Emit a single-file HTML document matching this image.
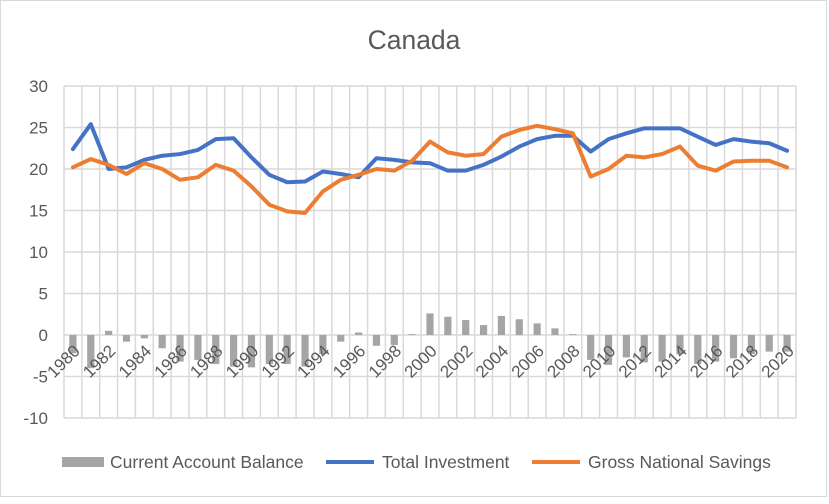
<!DOCTYPE html>
<html><head><meta charset="utf-8"><style>
body{margin:0;background:#fff;}
svg text{font-family:"Liberation Sans",sans-serif;fill:#595959;}
</style></head><body>
<svg id="chart" width="829" height="499" xmlns="http://www.w3.org/2000/svg">
<rect x="0.5" y="0.5" width="826" height="496" fill="#fff" stroke="#d9d9d9"/>
<text x="414" y="49" text-anchor="middle" font-size="26.5">Canada</text>
<g id="grid"></g><g id="bars"></g><g id="lines"></g><g id="axes"></g>
<g>
<rect x="62" y="457" width="42" height="10" fill="#a5a5a5"/>
<text x="110" y="468" font-size="17.5">Current Account Balance</text>
<line x1="326" y1="462" x2="374" y2="462" stroke="#4472c4" stroke-width="4"/>
<text x="382" y="468" font-size="17.5">Total Investment</text>
<line x1="532" y1="462" x2="580" y2="462" stroke="#ed7d31" stroke-width="4"/>
<text x="588" y="468" font-size="17.5">Gross National Savings</text>
</g>
</svg>
<script>
const years=[];for(let y=1980;y<=2020;y++)years.push(y);
const cab=[-2.2,-4.0,0.5,-0.8,-0.4,-1.6,-3.2,-3.0,-3.5,-3.8,-3.9,-3.5,-3.5,-3.8,-2.3,-0.8,0.3,-1.3,-1.2,0.1,2.6,2.2,1.8,1.2,2.3,1.9,1.4,0.8,0.1,-3.0,-3.6,-2.7,-3.3,-3.2,-2.3,-3.5,-3.2,-2.8,-2.3,-2.0,-2.0];
const investment=[22.4,25.4,20.0,20.2,21.1,21.6,21.8,22.3,23.6,23.7,21.4,19.3,18.4,18.5,19.7,19.4,19.0,21.3,21.1,20.8,20.7,19.8,19.8,20.5,21.5,22.7,23.6,24.0,24.0,22.1,23.6,24.3,24.9,24.9,24.9,23.9,22.9,23.6,23.3,23.1,22.2];
const savings=[20.2,21.2,20.5,19.4,20.7,20.0,18.7,19.0,20.5,19.8,17.9,15.7,14.9,14.7,17.3,18.7,19.3,20.0,19.8,21.0,23.3,22.0,21.6,21.8,23.9,24.7,25.2,24.8,24.3,19.1,20.0,21.6,21.4,21.8,22.7,20.4,19.8,20.9,21.0,21.0,20.2];
const yTicks=[-10,-5,0,5,10,15,20,25,30];
const NS="http://www.w3.org/2000/svg";
const L=64,R=796,T=86,B=418;
const bw=(R-L)/years.length;
const yS=v=>335-(v)*(335-T)/30;
const xC=i=>L+(i+0.5)*bw;
function mk(tag,attrs,parent){const e=document.createElementNS(NS,tag);for(const k in attrs)e.setAttribute(k,attrs[k]);document.getElementById(parent).appendChild(e);return e;}
yTicks.forEach(t=>{
 const l=mk('line',{x1:L,x2:R,y1:yS(t),y2:yS(t),stroke:'#d9d9d9','stroke-width':1.5},'grid');
 
 
 const tx=mk('text',{x:48,y:yS(t)+6,'text-anchor':'end','font-size':17,},'axes');
 tx.textContent=t;
 
 
});
for(let i=0;i<=years.length;i++){
 const l=mk('line',{x1:L+i*bw,x2:L+i*bw,y1:T,y2:B,stroke:'#d9d9d9','stroke-width':1.5},'grid');
 
 
}
cab.forEach((v,i)=>{
 const y0=yS(0),y1=yS(v);
 const r=mk('rect',{x:xC(i)-3.6,width:7.2,y:Math.min(y0,y1),height:Math.abs(y1-y0),fill:'#a5a5a5'},'bars');
 
 
});
function line(arr,col,name){
 const p=mk('polyline',{points:arr.map((v,i)=>xC(i)+','+yS(v)).join(' '),fill:'none',stroke:col,'stroke-width':4,'stroke-linejoin':'round','stroke-linecap':'round'},'lines');
 
 
}
line(investment,'#4472c4','line-total-investment');
line(savings,'#ed7d31','line-gross-national-savings');
years.forEach((y,i)=>{
 if(i%2)return;
 const x=xC(i)+8,yy=352;
 const t=mk('text',{x:x,y:yy,'text-anchor':'end','font-size':17,transform:'rotate(-45 '+x+' '+yy+')'},'axes');
 t.textContent=y;
 
 
});
</script>
</body></html>
